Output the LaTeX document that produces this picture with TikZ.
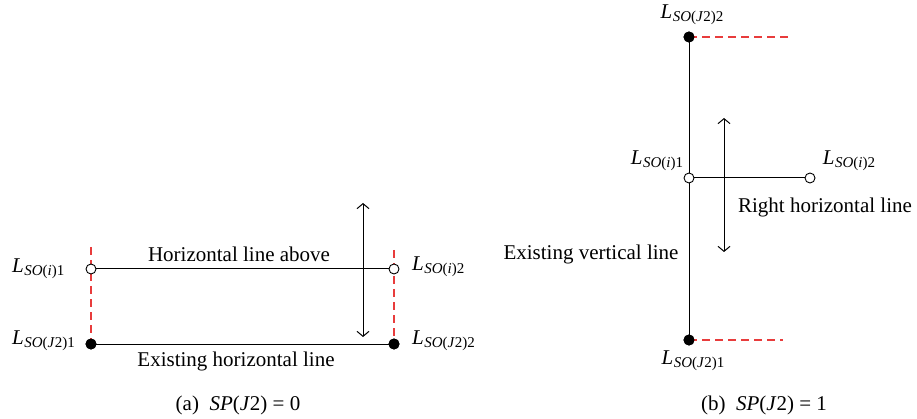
\documentclass[tikz,border=0pt]{standalone}
\usepackage{fontspec}
\setmainfont{Liberation Serif}
\usetikzlibrary{arrows.meta}
\newcommand{\Lsub}[1]{\textit{L}\kern0.5pt\raisebox{-0.35ex}{\fontsize{15}{16}\selectfont #1}}
\begin{document}
\begin{tikzpicture}[x=1pt,y=-1pt,
  every node/.style={font=\fontsize{21}{24}\selectfont},
  opendot/.style={circle,draw,fill=white,line width=0.9pt,minimum size=10pt,inner sep=0pt},
  fulldot/.style={circle,draw,fill=black,line width=0.9pt,minimum size=10pt,inner sep=0pt},
  seg/.style={line width=1pt},
  reddash/.style={draw={rgb,255:red,232;green,60;blue,60},line width=1.1pt,dash pattern=on 8pt off 5pt},
  dblarrow/.style={line width=1pt,{Straight Barb[length=5pt,width=12pt]}-{Straight Barb[length=5pt,width=12pt]}},
  lbl/.style={inner sep=0pt}]
\useasboundingbox (0,0) rectangle (917,419);
% ---------- panel (a)
\coordinate (ra1) at (91,247);
\coordinate (ra2) at (394,250);
\coordinate (ar1) at (363,203);
\coordinate (ar2) at (363,337);
\node[fulldot] (b1) at (91,344) {};
\node[fulldot] (b2) at (394,344) {};
\draw[reddash] (ra1) -- (b1.center);
\draw[reddash] (ra2) -- (b2.center);
\node[opendot] (a1) at (91,269) {};
\node[opendot] (a2) at (394,269) {};
\draw[seg] (a1) -- (a2);
\draw[seg] (b1) -- (b2);
\draw[dblarrow] (ar1) -- (ar2);
\node[fulldot] at (b1) {};
\node[fulldot] at (b2) {};
\node[lbl,anchor=west] (la1) at (12,269) {\Lsub{\textit{SO}(\textit{i})1}};
\node[lbl,anchor=west] (lb1) at (12,341) {\Lsub{\textit{SO}(\textit{J}2)1}};
\node[lbl,anchor=west] (la2) at (412,267) {\Lsub{\textit{SO}(\textit{i})2}};
\node[lbl,anchor=west] (lb2) at (412,341) {\Lsub{\textit{SO}(\textit{J}2)2}};
\node[lbl] (t1) at (239,254) {Horizontal line above};
\node[lbl] (t2) at (236,361) {Existing horizontal line};
\node[lbl] (capa) at (238,405) {(a)\enspace\textit{SP}(\textit{J}2) = 0};
% ---------- panel (b)
\node[fulldot] (c2) at (689,37) {};
\node[fulldot] (c1) at (689,340) {};
\coordinate (rc2) at (788,37);
\coordinate (rc1) at (783,340);
\draw[reddash] (c2.center) -- (rc2);
\draw[reddash] (c1.center) -- (rc1);
\draw[seg] (c2) -- (c1);
\node[fulldot] at (c2) {};
\node[fulldot] at (c1) {};
\node[opendot] (d1) at (689,178) {};
\node[opendot] (d2) at (810,178) {};
\draw[seg] (d1) -- (d2);
\coordinate (br1) at (724,118);
\coordinate (br2) at (724,252);
\draw[dblarrow] (br1) -- (br2);
\node[lbl] (lc2) at (692,15) {\Lsub{\textit{SO}(\textit{J}2)2}};
\node[lbl] (lc1) at (693,361) {\Lsub{\textit{SO}(\textit{J}2)1}};
\node[lbl] (ld1) at (657,161) {\Lsub{\textit{SO}(\textit{i})1}};
\node[lbl] (ld2) at (849,161) {\Lsub{\textit{SO}(\textit{i})2}};
\node[lbl] (t3) at (825,207) {Right horizontal line};
\node[lbl] (t4) at (591,254) {Existing vertical line};
\node[lbl] (capb) at (764,405) {(b)\enspace\textit{SP}(\textit{J}2) = 1};
\end{tikzpicture}
\end{document}
